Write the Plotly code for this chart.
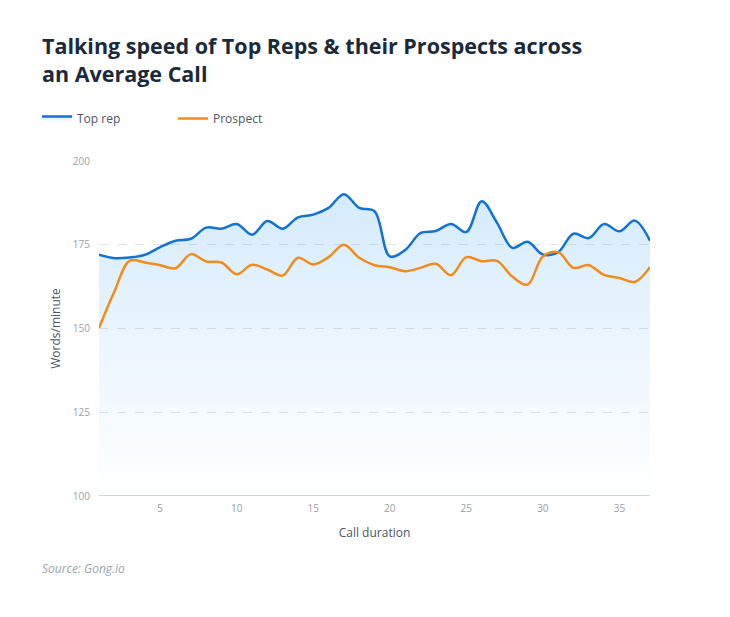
import plotly.graph_objects as go

minutes = list(range(1, 38))
top_rep = [172, 171, 171.2, 172, 174.3, 176.2, 176.8, 180.1, 179.8, 181.2,
           178, 182.1, 179.8, 183.2, 184, 186, 190.1, 186, 185, 171.5,
           173.4, 178.5, 179.1, 181.2, 178.8, 188, 181.6, 174.1, 175.9, 172.1,
           172.8, 178.3, 177, 181.2, 179, 182.2, 176.2]
prospect = [150.2, 161, 170.2, 169.7, 168.9, 168, 172.2, 170, 169.7, 166.2,
            169, 167.6, 165.8, 171.1, 169.1, 171.3, 175, 171.1, 168.9, 168.3,
            167.1, 168.1, 169.3, 165.9, 171.3, 170.1, 170.2, 165.5, 163.1, 171.5,
            172.8, 168.1, 168.9, 166, 165.1, 163.9, 168.3]
y_ticks = [100, 125, 150, 175, 200]
x_ticks = [5, 10, 15, 20, 25, 30, 35]

FONT = "Open Sans"
OFF = 8  # page body margin

fig = go.Figure()
fig.add_trace(go.Scatter(
    x=minutes, y=top_rep, name="Top rep", mode="lines",
    line=dict(color="#1372d3", width=2.5, shape="spline", smoothing=1),
    fill="tozeroy",
    fillgradient=dict(type="vertical", start=100, stop=192,
                      colorscale=[[0, "rgba(35,150,240,0.0)"], [0.5, "rgba(35,150,240,0.09)"],
                                  [1, "rgba(35,150,240,0.2)"]]),
))
fig.add_trace(go.Scatter(
    x=minutes, y=prospect, name="Prospect", mode="lines",
    line=dict(color="#f08c1c", width=2.5, shape="spline", smoothing=1),
))

fig.update_layout(
    width=730, height=617,
    paper_bgcolor="white", plot_bgcolor="white",
    margin=dict(l=99 - OFF, r=730 + OFF - 650, t=161 - OFF, b=617 + OFF - 496),
    font=dict(family=FONT, color="#8a9199"),
    title=dict(
        text="Talking speed of Top Reps & their Prospects across<br>an Average Call",
        font=dict(family=FONT, size=21.5, color="#1b2a3a", weight="bold"),
        x=34/730, xanchor="left", xref="container",
        y=1-46/617, yanchor="top",
    ),
    legend=dict(
        orientation="h", x=29/730, xref="container", xanchor="left",
        y=1-96/617, yref="container", yanchor="top",
        font=dict(family=FONT, size=12, color="#4b5560"),
        entrywidth=91, entrywidthmode="pixels",
        bgcolor="rgba(0,0,0,0)",
    ),
    showlegend=True,
)

fig.update_xaxes(
    range=[1, 37], tickvals=x_ticks, showgrid=False, zeroline=False,
    showline=False, ticks="", ticklabelstandoff=5,
    tickfont=dict(family=FONT, size=10, color="#9aa0a6"),
    title=dict(text="Call duration", font=dict(family=FONT, size=12, color="#4b5560"), standoff=14),
)
fig.update_yaxes(
    range=[100, 200], tickvals=y_ticks, showgrid=True, gridcolor="#dfe4ea",
    griddash="dash", gridwidth=1, zeroline=False, showline=False, ticks="",
    ticklabelstandoff=8,
    tickfont=dict(family=FONT, size=10, color="#9aa0a6"),
    title=dict(text="Words/minute", font=dict(family=FONT, size=12, color="#4b5560"), standoff=9),
)

fig.add_shape(type="line", xref="paper", yref="y", x0=0, x1=1, y0=100, y1=100,
              line=dict(color="#c9d6e2", width=2), layer="above")

fig.add_annotation(text="Source: Gong.io", xref="paper", yref="paper",
                   x=(42-99)/551 - 2/551, y=(496-568)/335, xanchor="left", yanchor="middle",
                   showarrow=False,
                   font=dict(family=FONT, size=12, color="#9aa3ad", style="italic"))

fig.write_html("out.html")
